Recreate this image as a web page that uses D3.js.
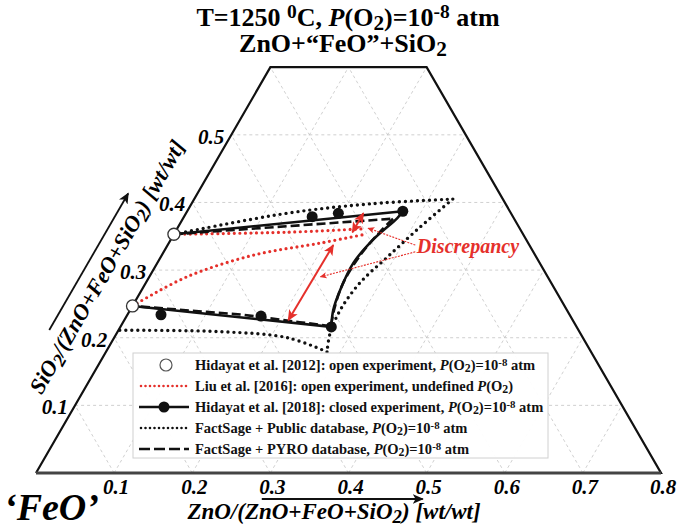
<!DOCTYPE html>
<html>
<head>
<meta charset="utf-8">
<script src="https://cdn.jsdelivr.net/npm/d3@7"></script>
<style>
  body { margin: 0; background: #fff; }
  text { font-family: "Liberation Serif", "Times New Roman", serif; font-weight: bold; }
</style>
</head>
<body>
<svg id="chart" width="677" height="531"></svg>
<script>
// all compositions are [ZnO, SiO2] in wt fraction, FeO = 1 - ZnO - SiO2
var zTicks = [0.1, 0.2, 0.3, 0.4, 0.5, 0.6, 0.7, 0.8];
var sTicks = [0.1, 0.2, 0.3, 0.4, 0.5];

var open2012 = [[0, 0.353], [0, 0.247]];

var liuUpper = [[0, 0.353], [0.143, 0.356], [0.237, 0.361]];
var liuLower = [[0, 0.247], [0.048, 0.290], [0.117, 0.322], [0.194, 0.340], [0.245, 0.353]];

var closedUpper = [[0, 0.353], [0.276, 0.387]];
var closedRight = [[0.276, 0.387], [0.274, 0.377], [0.259, 0.345], [0.251, 0.311], [0.254, 0.271], [0.260, 0.241], [0.270, 0.216]];
var closedLower = [[0.270, 0.216], [0, 0.247]];
var closedPts = [[0.164, 0.379], [0.195, 0.384], [0.276, 0.387], [0.043, 0.234], [0.172, 0.232], [0.270, 0.216]];

var publicUpper = [[0, 0.353], [0.129, 0.384], [0.229, 0.398], [0.331, 0.405]];
var publicRight = [[0.331, 0.405], [0.310, 0.364], [0.290, 0.319], [0.274, 0.281], [0.269, 0.241], [0.273, 0.207], [0.283, 0.179]];
var publicLower = [[0.283, 0.179], [0.222, 0.200], [0.131, 0.209], [0, 0.211]];

var pyroUpper = [[0, 0.353], [0.269, 0.376]];
var pyroRight = [[0.269, 0.376], [0.262, 0.356], [0.254, 0.322], [0.253, 0.278], [0.261, 0.241], [0.269, 0.217]];
var pyroLower = [[0.269, 0.217], [0.226, 0.223], [0.148, 0.234], [0, 0.247]];

var discArrows = [[[0.210, 0.226], [0.212, 0.337]], [[0.227, 0.356], [0.227, 0.384]]];
var discLeaders = [[[0.317, 0.337], [0.244, 0.362]], [[0.322, 0.327], [0.219, 0.290]]];
var discLabel = [0.325, 0.325];

var legendLabels = [
  [["Hidayat et al. [2012]: open experiment, "], ["P", "i"], ["(O"], ["2", "sub"], [")=10"], ["-8", "sup"], [" atm"]],
  [["Liu et al. [2016]: open experiment, undefined "], ["P", "i"], ["(O"], ["2", "sub"], [")"]],
  [["Hidayat et al. [2018]: closed experiment, "], ["P", "i"], ["(O"], ["2", "sub"], [")=10"], ["-8", "sup"], [" atm"]],
  [["FactSage + Public database, "], ["P", "i"], ["(O"], ["2", "sub"], [")=10"], ["-8", "sup"], [" atm"]],
  [["FactSage + PYRO database, "], ["P", "i"], ["(O"], ["2", "sub"], [")=10"], ["-8", "sup"], [" atm"]]
];

var RED = "#e5302b";
var svg = d3.select("#chart");

var x = d3.scaleLinear().domain([0, 0.8]).range([36, 661]);
var y = d3.scaleLinear().domain([0, 0.6]).range([473, 67.2]);
function px(d) { return x(d[0] + d[1] / 2); }
function py(d) { return y(d[1]); }
var line = d3.line().x(px).y(py);
var curve = d3.line().x(px).y(py).curve(d3.curveCatmullRom);

function rich(sel, parts) {
  parts.forEach(function(p) {
    var t = sel.append("tspan").text(p[0]);
    if (p[1] == "i") t.attr("font-style", "italic");
    if (p[1] == "sub") t.attr("baseline-shift", "-20%").style("font-size", "0.82em");
    if (p[1] == "sup") t.attr("baseline-shift", "38%").style("font-size", "0.75em");
  });
}

var defs = svg.append("defs");
function marker(id, color, w) {
  defs.append("marker").attr("id", id)
      .attr("viewBox", "0 -5 10 10").attr("refX", 9).attr("refY", 0)
      .attr("markerWidth", w).attr("markerHeight", w)
      .attr("markerUnits", "userSpaceOnUse")
      .attr("orient", "auto-start-reverse")
    .append("path").attr("d", "M0,-4.5L10,0L0,4.5L2.5,0Z").attr("fill", color);
}
marker("redhead", RED, 11);
marker("redsmall", RED, 7);
marker("blackhead", "#111", 11);

// grid
var grid = [];
sTicks.forEach(function(s) { grid.push([[0, s], [0.8 - s, s]]); });
zTicks.slice(0, 7).forEach(function(z) { var s = Math.min(0.6, 0.8 - z); grid.push([[z, 0], [z, s]]); });
[0.3, 0.4, 0.5, 0.6, 0.7, 0.8, 0.9].forEach(function(f) { var s = Math.min(0.6, 1 - f); grid.push([[1 - f, 0], [1 - f - s, s]]); });
svg.append("g").selectAll("path").data(grid).enter().append("path")
    .attr("d", line).attr("fill", "none")
    .attr("stroke", "#c4c4c4").attr("stroke-width", 0.8).attr("stroke-dasharray", "3,3");

// outline
svg.append("path").datum([[0, 0], [0.8, 0], [0.2, 0.6], [0, 0.6], [0, 0]])
    .attr("d", line).attr("fill", "none").attr("stroke", "#111").attr("stroke-width", 2.2)
    .attr("stroke-linejoin", "miter");
svg.append("path").datum([[0, 0], [0.8, 0]])
    .attr("d", line).attr("stroke", "#444").attr("stroke-width", 3);

// FactSage public (dotted)
var dotted = svg.append("g").attr("fill", "none").attr("stroke", "#111")
    .attr("stroke-width", 3.4).attr("stroke-linecap", "round").attr("stroke-dasharray", "0,6");
dotted.append("path").datum(publicUpper).attr("d", curve);
dotted.append("path").datum(publicRight).attr("d", curve);
dotted.append("path").datum(publicLower).attr("d", curve);

// Liu 2016 (red dotted)
var reds = svg.append("g").attr("fill", "none").attr("stroke", RED)
    .attr("stroke-width", 3.2).attr("stroke-linecap", "round").attr("stroke-dasharray", "0,5.5");
reds.append("path").datum(liuUpper).attr("d", curve);
reds.append("path").datum(liuLower).attr("d", curve);

// FactSage PYRO (dashed)
var dashed = svg.append("g").attr("fill", "none").attr("stroke", "#111")
    .attr("stroke-width", 2.6).attr("stroke-dasharray", "9,4");
dashed.append("path").datum(pyroUpper).attr("d", line);
dashed.append("path").datum(pyroRight).attr("d", curve);
dashed.append("path").datum(pyroLower).attr("d", line);

// Hidayat 2018 (solid)
var solid = svg.append("g").attr("fill", "none").attr("stroke", "#111").attr("stroke-width", 2.6);
solid.append("path").datum(closedUpper).attr("d", line);
solid.append("path").datum(closedRight).attr("d", curve);
solid.append("path").datum(closedLower).attr("d", line);

svg.append("g").selectAll("circle").data(closedPts).enter().append("circle")
    .attr("cx", px).attr("cy", py).attr("r", 5.5).attr("fill", "#111");

svg.append("g").selectAll("circle").data(open2012).enter().append("circle")
    .attr("cx", px).attr("cy", py).attr("r", 6).attr("fill", "#fff")
    .attr("stroke", "#333").attr("stroke-width", 1.3);

// discrepancy annotation
svg.append("g").selectAll("path").data(discArrows).enter().append("path")
    .attr("d", line).attr("stroke", RED).attr("stroke-width", 2)
    .attr("marker-start", "url(#redhead)").attr("marker-end", "url(#redhead)");
svg.append("g").selectAll("path").data(discLeaders).enter().append("path")
    .attr("d", line).attr("stroke", RED).attr("stroke-width", 1.1).attr("stroke-dasharray", "2,1.2")
    .attr("marker-end", "url(#redsmall)");
svg.append("text").attr("x", px(discLabel)).attr("y", py(discLabel))
    .attr("fill", RED).attr("font-style", "italic").attr("font-size", 20)
    .text("Discrepancy");

// tick labels
svg.append("g").selectAll("text").data(zTicks).enter().append("text")
    .attr("x", function(d) { return x(d) + 2; }).attr("y", 494)
    .attr("text-anchor", "middle").attr("font-style", "italic").attr("font-size", 21)
    .text(function(d) { return d3.format(".1f")(d); });
svg.append("g").selectAll("text").data(sTicks).enter().append("text")
    .attr("x", function(d) { return x(d / 2) - 7; }).attr("y", function(d) { return y(d) + 9; })
    .attr("text-anchor", "end").attr("font-style", "italic").attr("font-size", 21)
    .text(function(d) { return d3.format(".1f")(d); });

// axis titles
function edgePt(s, off) { return [x(s / 2) - off * 0.866, y(s) - off * 0.5]; }
var a0 = edgePt(0.167, 60), a1 = edgePt(0.369, 60);
svg.append("line").attr("x1", a0[0]).attr("y1", a0[1]).attr("x2", a1[0]).attr("y2", a1[1])
    .attr("stroke", "#111").attr("stroke-width", 1.8).attr("marker-end", "url(#blackhead)");
var tc = edgePt(0.274, 34);
rich(svg.append("text").attr("transform", "translate(" + tc[0] + "," + tc[1] + ") rotate(-60)")
    .attr("text-anchor", "middle").attr("font-style", "italic").attr("font-size", 22.5),
  [["SiO"], ["2", "sub"], ["/(ZnO+FeO+SiO"], ["2", "sub"], [") [wt/wt]"]]);

svg.append("line").attr("x1", x(0.289)).attr("y1", 499).attr("x2", x(0.495)).attr("y2", 499)
    .attr("stroke", "#111").attr("stroke-width", 1.8).attr("marker-end", "url(#blackhead)");
rich(svg.append("text").attr("x", 334).attr("y", 519)
    .attr("text-anchor", "middle").attr("font-style", "italic").attr("font-size", 23),
  [["ZnO/(ZnO+FeO+SiO"], ["2", "sub"], [") [wt/wt]"]]);

svg.append("text").attr("x", 4).attr("y", 520).attr("font-style", "italic").attr("font-size", 38)
    .text("\u2018FeO\u2019");

// title
rich(svg.append("text").attr("x", 348).attr("y", 26).attr("text-anchor", "middle").attr("font-size", 26),
  [["T=1250 "], ["0", "sup"], ["C, "], ["P", "i"], ["(O"], ["2", "sub"], [")=10"], ["-8", "sup"], [" atm"]]);
rich(svg.append("text").attr("x", 343).attr("y", 52).attr("text-anchor", "middle").attr("font-size", 26),
  [["ZnO+\u201CFeO\u201D+SiO"], ["2", "sub"]]);

// legend
var lg = svg.append("g").attr("transform", "translate(133,353)");
lg.append("rect").attr("width", 415).attr("height", 105)
    .attr("fill", "#fff").attr("fill-opacity", 0.95).attr("stroke", "#d0d0d0");
var rows = lg.selectAll("g.row").data(legendLabels).enter().append("g")
    .attr("class", "row").attr("transform", function(d, i) { return "translate(0," + (12 + i * 21) + ")"; });
rows.each(function(d, i) {
  var g = d3.select(this);
  if (i == 0) g.append("circle").attr("cx", 33).attr("r", 6).attr("fill", "#fff").attr("stroke", "#555").attr("stroke-width", 1.2);
  if (i == 1) g.append("line").attr("x1", 8).attr("x2", 56).attr("stroke", RED).attr("stroke-width", 2.6)
      .attr("stroke-linecap", "round").attr("stroke-dasharray", "0,4.5");
  if (i == 2) {
    g.append("line").attr("x1", 6).attr("x2", 56).attr("stroke", "#111").attr("stroke-width", 2.6);
    g.append("circle").attr("cx", 31).attr("r", 5.5).attr("fill", "#111");
  }
  if (i == 3) g.append("line").attr("x1", 8).attr("x2", 56).attr("stroke", "#111").attr("stroke-width", 2.6)
      .attr("stroke-linecap", "round").attr("stroke-dasharray", "0,4.5");
  if (i == 4) g.append("line").attr("x1", 6).attr("x2", 56).attr("stroke", "#111").attr("stroke-width", 2.6)
      .attr("stroke-dasharray", "11,4");
  rich(g.append("text").attr("x", 62).attr("y", 5).attr("font-size", 14.5).attr("fill", "#111"), d);
});
</script>
</body>
</html>
